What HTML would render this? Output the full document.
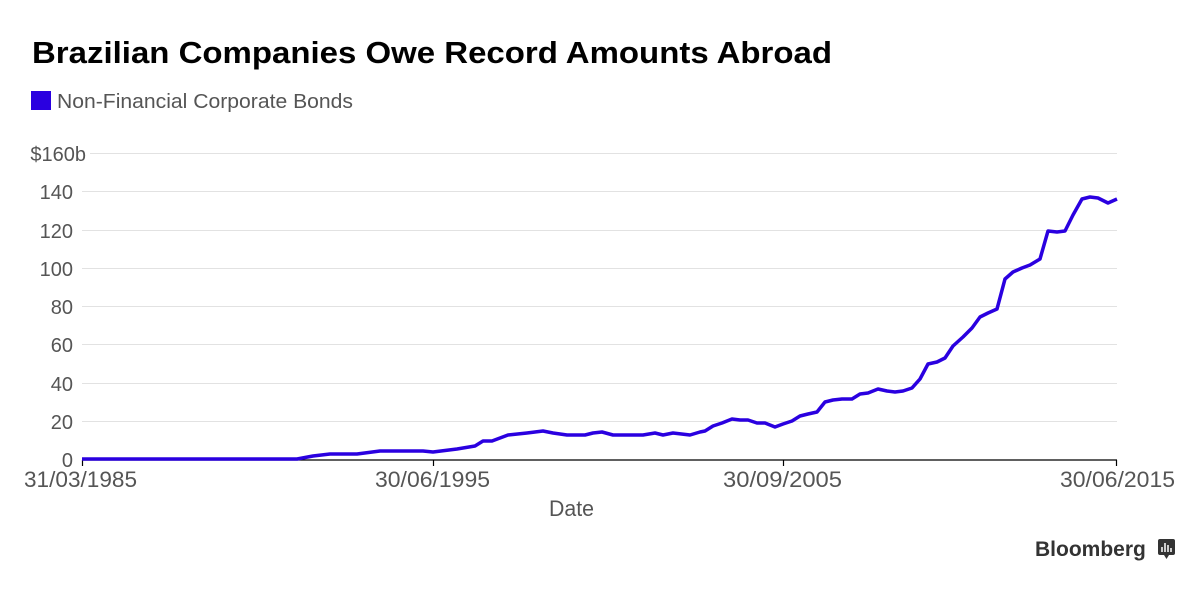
<!DOCTYPE html>
<html><head><meta charset="utf-8"><style>
body{margin:0;width:1200px;height:586px;background:#fff;overflow:hidden;font-family:"Liberation Sans",sans-serif}
</style></head><body>
<svg width="1200" height="586" xmlns="http://www.w3.org/2000/svg" font-family="Liberation Sans, sans-serif">
<text x="32" y="63" font-size="31" font-weight="bold" fill="#000" textLength="800" lengthAdjust="spacingAndGlyphs">Brazilian Companies Owe Record Amounts Abroad</text>
<rect x="31" y="91" width="20" height="19" fill="#2a00e0"/>
<text x="57" y="108" font-size="20.5" fill="#555" textLength="296" lengthAdjust="spacingAndGlyphs">Non-Financial Corporate Bonds</text>
<g stroke="#e2e2e2" stroke-width="1">
<line x1="90" x2="1117" y1="153.5" y2="153.5"/><line x1="82" x2="1117" y1="191.5" y2="191.5"/>
<line x1="82" x2="1117" y1="230.5" y2="230.5"/><line x1="82" x2="1117" y1="268.5" y2="268.5"/>
<line x1="82" x2="1117" y1="306.5" y2="306.5"/><line x1="82" x2="1117" y1="344.5" y2="344.5"/>
<line x1="82" x2="1117" y1="383.5" y2="383.5"/><line x1="82" x2="1117" y1="421.5" y2="421.5"/>
</g>
<g font-size="20" fill="#555" text-anchor="end">
<text x="86" y="161">$160b</text><text x="73" y="199">140</text><text x="73" y="238">120</text>
<text x="73" y="276">100</text><text x="73" y="314">80</text><text x="73" y="352">60</text>
<text x="73" y="391">40</text><text x="73" y="429">20</text><text x="73" y="467">0</text>
</g>
<line x1="82" x2="1117" y1="460" y2="460" stroke="#000" stroke-width="1.2"/>
<g stroke="#000" stroke-width="1.2"><line x1="82.5" x2="82.5" y1="460" y2="466"/><line x1="433.5" x2="433.5" y1="460" y2="466"/><line x1="783.5" x2="783.5" y1="460" y2="466"/><line x1="1116.5" x2="1116.5" y1="460" y2="466"/></g>
<polyline fill="none" stroke="#2a00e0" stroke-width="3.5" stroke-linejoin="round" points="82,459 297,459 313,456 330,454 357,454 380,451 423,451 433,452 457,449 475,446 483,441 492,441 508,435 527,433 543,431 553,433 567,435 585,435 593,433 602,432 613,435 643,435 655,433 663,435 673,433 690,435 700,432 705,431 713,426 722,423 732,419 740,420 748,420 757,423 765,423 775,427 783,424 792,421 800,416 808,414 817,412 825,402 833,400 842,399 852,399 860,394 868,393 878,389 887,391 895,392 903,391 912,388 920,379 928,364 937,362 945,358 953,346 963,337 972,328 980,317 988,313 997,309 1005,279 1013,272 1022,268 1030,265 1040,259 1048,231 1057,232 1065,231 1073,215 1082,199 1090,197 1098,198 1108,203 1117,199"/>
<g font-size="22" fill="#555">
<text x="24" y="487" textLength="113" lengthAdjust="spacingAndGlyphs">31/03/1985</text>
<text x="375" y="487" textLength="115" lengthAdjust="spacingAndGlyphs">30/06/1995</text>
<text x="723" y="487" textLength="119" lengthAdjust="spacingAndGlyphs">30/09/2005</text>
<text x="1060" y="487" textLength="115" lengthAdjust="spacingAndGlyphs">30/06/2015</text>
<text x="549" y="516" textLength="45" lengthAdjust="spacingAndGlyphs">Date</text>
</g>
<text x="1035" y="556" font-size="21" font-weight="bold" fill="#333">Bloomberg</text>
<rect x="1158" y="539" width="17" height="16" rx="2" fill="#333"/>
<polygon points="1164,555 1169,555 1166.5,559" fill="#333"/>
<g stroke="#fff" stroke-width="1.5"><line x1="1162" y1="552" x2="1162" y2="547"/><line x1="1165" y1="552" x2="1165" y2="543"/><line x1="1168" y1="552" x2="1168" y2="545"/><line x1="1171" y1="552" x2="1171" y2="548"/></g>
</svg>
</body></html>
